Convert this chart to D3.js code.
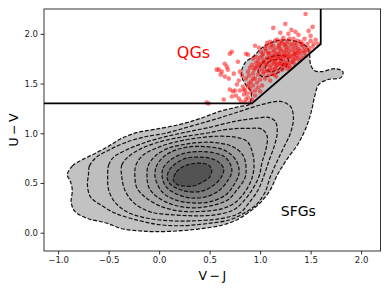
<!DOCTYPE html>
<html lang="en">
<head>
<meta charset="UTF-8">
<title>UVJ diagram</title>
<script src="https://d3js.org/d3.v7.min.js"></script>
<style>
  body { margin: 0; background: #fff; }
  text { font-family: "DejaVu Sans", sans-serif; }
</style>
</head>
<body>
<div id="chart"></div>
<script>
// axis ticks
const xTicks = [-1.0, -0.5, 0.0, 0.5, 1.0, 1.5, 2.0];
const yTicks = [0.0, 0.5, 1.0, 1.5, 2.0];

// density contours of the star-forming sample, outer -> inner, [V-J, U-V]
const sfgLevel1 = [[-0.91,0.58],[-0.86,0.67],[-0.75,0.74],[-0.63,0.80],[-0.50,0.87],[-0.37,0.95],[-0.21,1.01],[-0.04,1.04],[0.21,1.09],[0.41,1.15],[0.60,1.22],[0.80,1.27],[0.89,1.29],[0.91,1.35],[0.91,1.42],[0.87,1.47],[0.82,1.56],[0.82,1.64],[0.86,1.72],[0.93,1.77],[1.02,1.86],[1.13,1.92],[1.26,1.94],[1.40,1.91],[1.47,1.86],[1.49,1.79],[1.50,1.69],[1.54,1.63],[1.61,1.62],[1.74,1.65],[1.82,1.62],[1.80,1.56],[1.67,1.54],[1.58,1.49],[1.54,1.37],[1.51,1.23],[1.46,1.07],[1.38,0.90],[1.26,0.73],[1.17,0.58],[1.10,0.43],[1.00,0.30],[0.88,0.20],[0.75,0.12],[0.60,0.07],[0.41,0.04],[0.22,0.02],[-0.04,0.01],[-0.21,0.02],[-0.37,0.04],[-0.53,0.10],[-0.70,0.14],[-0.83,0.21],[-0.87,0.30],[-0.86,0.43],[-0.88,0.52]];
const sfgLevel2 = [[-0.70,0.58],[-0.69,0.67],[-0.62,0.76],[-0.50,0.83],[-0.35,0.90],[-0.16,0.96],[0.06,1.00],[0.31,1.07],[0.55,1.14],[0.80,1.22],[1.02,1.29],[1.20,1.32],[1.30,1.27],[1.33,1.16],[1.30,1.00],[1.23,0.85],[1.16,0.70],[1.10,0.56],[1.05,0.41],[0.96,0.28],[0.83,0.19],[0.70,0.13],[0.46,0.09],[0.21,0.07],[0.01,0.08],[-0.19,0.12],[-0.42,0.19],[-0.58,0.28],[-0.68,0.36],[-0.71,0.48]];
const sfgLevel3 = [[-0.51,0.56],[-0.50,0.68],[-0.45,0.76],[-0.33,0.83],[-0.16,0.90],[0.04,0.96],[0.26,1.01],[0.50,1.06],[0.75,1.12],[0.95,1.15],[1.08,1.16],[1.15,1.12],[1.17,1.01],[1.14,0.87],[1.09,0.73],[1.04,0.58],[0.98,0.43],[0.89,0.30],[0.80,0.20],[0.60,0.14],[0.36,0.12],[0.11,0.12],[-0.14,0.15],[-0.32,0.21],[-0.44,0.31],[-0.50,0.43]];
const sfgLevel4 = [[-0.37,0.56],[-0.37,0.68],[-0.31,0.76],[-0.19,0.84],[-0.01,0.91],[0.21,0.96],[0.46,1.00],[0.68,1.04],[0.88,1.05],[1.02,1.04],[1.07,0.97],[1.06,0.85],[1.02,0.71],[0.99,0.57],[0.92,0.43],[0.83,0.31],[0.74,0.23],[0.56,0.18],[0.36,0.17],[0.13,0.18],[-0.09,0.21],[-0.25,0.30],[-0.34,0.43]];
const sfgLevel5 = [[-0.24,0.56],[-0.23,0.68],[-0.16,0.78],[-0.03,0.85],[0.15,0.91],[0.36,0.95],[0.57,0.97],[0.76,0.96],[0.87,0.92],[0.92,0.82],[0.94,0.69],[0.92,0.55],[0.85,0.41],[0.75,0.30],[0.62,0.24],[0.43,0.215],[0.23,0.215],[0.03,0.26],[-0.13,0.35],[-0.22,0.45]];
const sfgLevel6 = [[-0.12,0.56],[-0.11,0.67],[-0.04,0.77],[0.09,0.85],[0.26,0.89],[0.44,0.91],[0.61,0.90],[0.74,0.86],[0.83,0.78],[0.86,0.67],[0.85,0.55],[0.77,0.43],[0.68,0.33],[0.51,0.27],[0.33,0.25],[0.14,0.28],[-0.02,0.36],[-0.10,0.45]];
const sfgLevel7 = [[-0.04,0.56],[-0.03,0.66],[0.04,0.76],[0.16,0.83],[0.31,0.865],[0.47,0.865],[0.62,0.84],[0.72,0.78],[0.78,0.69],[0.79,0.59],[0.74,0.48],[0.66,0.38],[0.50,0.31],[0.33,0.30],[0.16,0.33],[0.03,0.41]];
const sfgLevel8 = [[0.03,0.56],[0.04,0.65],[0.11,0.73],[0.22,0.79],[0.36,0.815],[0.50,0.81],[0.64,0.77],[0.70,0.70],[0.72,0.61],[0.67,0.51],[0.59,0.42],[0.46,0.36],[0.31,0.35],[0.17,0.39],[0.07,0.46]];
const sfgLevel9 = [[0.08,0.55],[0.10,0.63],[0.17,0.70],[0.27,0.75],[0.39,0.76],[0.50,0.75],[0.59,0.71],[0.64,0.64],[0.61,0.55],[0.53,0.47],[0.43,0.42],[0.31,0.41],[0.19,0.44],[0.11,0.49]];
const sfgLevel10 = [[0.14,0.53],[0.17,0.61],[0.23,0.66],[0.31,0.69],[0.41,0.70],[0.49,0.68],[0.52,0.63],[0.50,0.56],[0.43,0.51],[0.34,0.47],[0.24,0.47],[0.17,0.49]];

// inner contours of the quiescent clump
const qgLevel2 = [[0.98,1.62],[1.02,1.70],[1.08,1.76],[1.16,1.78],[1.24,1.78],[1.28,1.74],[1.26,1.68],[1.19,1.62],[1.10,1.58],[1.02,1.57]];
const qgLevel3 = [[1.05,1.65],[1.08,1.71],[1.14,1.74],[1.21,1.74],[1.23,1.70],[1.19,1.65],[1.11,1.62]];

const levelFills = ["#c2c2c2", "#bebebe", "#b9b9b9", "#b2b2b2", "#a9a9a9", "#9d9d9d", "#8e8e8e", "#7c7c7c", "#686868", "#535353"];

// UVJ selection boundary
const boxVJ = [-1.3, 0.92, 1.6, 1.6];
const boxUV = [1.3, 1.3, 1.898, 2.4];

// quiescent galaxies [V-J, U-V]
const qgPoints = [
  [1.45,2.20],[1.25,2.10],[1.52,2.07],[1.13,2.06],[1.31,2.04],[1.35,2.02],[1.28,2.00],[1.38,1.99],[1.20,2.01],[1.48,2.03],
  [1.50,1.98],[1.07,1.91],[1.10,1.92],[1.17,1.94],[1.23,1.96],[0.88,1.79],[0.72,1.82],[0.70,1.80],[0.86,1.80],[0.65,1.70],
  [0.67,1.67],[0.68,1.64],[0.57,1.64],[0.65,1.57],[0.69,1.55],[0.79,1.53],[0.82,1.58],[0.80,1.62],[0.70,1.44],[0.75,1.43],
  [0.80,1.43],[0.85,1.43],[0.73,1.42],[0.72,1.37],[0.86,1.34],[0.81,1.32],[0.49,1.30],[0.95,1.88],[0.99,1.86],[0.78,1.72],
  [0.74,1.60],[0.62,1.62],[0.77,1.49],[0.83,1.47],[0.90,1.45],[0.89,1.50],[0.93,1.55],[0.76,1.38],[0.84,1.39],[0.79,1.35],
  [0.64,1.34],[0.47,1.31],[0.59,1.64],[0.61,1.59],
  [1.15,1.93],[1.22,1.91],[1.27,1.93],[1.33,1.95],[1.40,1.92],[1.44,1.95],[1.30,1.90],[1.36,1.89],[1.19,1.88],[1.25,1.87],
  [1.50,1.93],[1.47,1.90],[1.55,1.94],[1.57,1.90],
  [1.05,1.85],[1.10,1.86],[1.14,1.84],[1.20,1.85],[1.28,1.86],[1.32,1.84],[1.38,1.85],[1.43,1.87],[1.46,1.84],[1.52,1.87],
  [1.35,1.82],[1.24,1.82],[1.16,1.80],[1.09,1.81],[1.01,1.82],[1.40,1.80],[1.49,1.83],
  [0.96,1.77],[1.02,1.78],[1.07,1.76],[1.12,1.78],[1.18,1.76],[1.23,1.78],[1.27,1.80],[1.31,1.77],[1.36,1.78],[1.42,1.76],
  [1.39,1.73],[1.33,1.74],[1.28,1.75],[1.21,1.73],[1.15,1.72],[1.09,1.73],[1.04,1.74],[0.98,1.73],[0.93,1.75],[1.25,1.72],[1.30,1.71],
  [0.92,1.69],[0.97,1.67],[1.01,1.70],[1.05,1.68],[1.11,1.69],[1.16,1.67],[1.20,1.70],[1.25,1.68],[1.30,1.66],[1.34,1.70],
  [1.22,1.64],[1.18,1.62],[1.13,1.64],[1.07,1.63],[1.02,1.65],[0.94,1.64],[0.90,1.66],[0.88,1.62],[1.27,1.65],
  [0.89,1.58],[0.93,1.60],[0.98,1.59],[1.03,1.60],[1.08,1.58],[1.12,1.60],[1.16,1.57],[0.95,1.55],[1.00,1.54],[1.05,1.55],
  [1.10,1.53],[0.91,1.52],[0.86,1.55],[0.97,1.51],[1.14,1.59],
  [0.88,1.47],[0.93,1.48],[0.98,1.46],[1.02,1.48],[0.95,1.43],[0.91,1.41],[0.87,1.40],[1.00,1.42],[0.84,1.44],
  [0.88,1.36],[0.92,1.34],[0.85,1.31],[0.90,1.31],[0.95,1.38],
  [1.18,1.81],[1.26,1.84],[1.32,1.88],[1.12,1.75],[1.06,1.71],[1.23,1.75],[1.29,1.78],[1.37,1.81],[1.43,1.83],[1.15,1.78],
  [1.20,1.79],[1.10,1.66],[1.14,1.70],[1.04,1.62],[0.99,1.63],[1.35,1.86],[1.41,1.89],[1.21,1.67],[1.26,1.70],[1.08,1.80],
  [0.96,1.71],[1.00,1.76],[1.17,1.86],[1.24,1.89],[1.45,1.78],
  [1.13,1.88],[1.21,1.93],[1.29,1.95],[1.37,1.93],[1.42,1.90],[1.34,1.91],[1.26,1.90],[1.19,1.90],[1.11,1.89],[1.06,1.88],
  [1.03,1.80],[1.06,1.83],[1.13,1.82],[1.21,1.83],[1.29,1.82],[1.34,1.80],[1.39,1.83],[1.44,1.81],[1.48,1.86],[1.53,1.90],
  [1.10,1.76],[1.16,1.75],[1.20,1.76],[1.26,1.77],[1.33,1.79],[1.38,1.76],[1.35,1.75],[1.24,1.79],[1.19,1.71],[1.13,1.73],
  [1.07,1.69],[1.03,1.72],[0.99,1.69],[0.95,1.66],[1.09,1.63],[1.15,1.65],[1.23,1.69],[1.28,1.68],[1.32,1.72],[1.17,1.69]
];

const width = 390, height = 293;
const margin = {top: 9, right: 9.4, bottom: 42, left: 44};

const x = d3.scaleLinear().domain([-1.14, 2.193]).range([margin.left, width - margin.right]);
const y = d3.scaleLinear().domain([-0.184, 2.25]).range([height - margin.bottom, margin.top]);

const svg = d3.select("#chart").append("svg")
    .attr("width", width)
    .attr("height", height);

svg.append("defs").append("clipPath").attr("id", "plot-clip")
  .append("rect")
    .attr("x", margin.left).attr("y", margin.top)
    .attr("width", width - margin.left - margin.right)
    .attr("height", height - margin.top - margin.bottom);

const plot = svg.append("g").attr("clip-path", "url(#plot-clip)");

const contourLine = d3.line()
    .x(d => x(d[0]))
    .y(d => y(d[1]))
    .curve(d3.curveCatmullRomClosed.alpha(0.5));

const sfgLevels = [sfgLevel1, sfgLevel2, sfgLevel3, sfgLevel4, sfgLevel5,
                   sfgLevel6, sfgLevel7, sfgLevel8, sfgLevel9, sfgLevel10];

// filled bands
plot.append("g")
  .selectAll("path")
  .data(sfgLevels)
  .join("path")
    .attr("d", contourLine)
    .attr("fill", (d, i) => levelFills[i])
    .attr("stroke", "none");

// dashed iso-lines
plot.append("g")
  .selectAll("path")
  .data(sfgLevels.concat([qgLevel2, qgLevel3]))
  .join("path")
    .attr("d", contourLine)
    .attr("fill", "none")
    .attr("stroke", "#111")
    .attr("stroke-width", 1.2)
    .attr("stroke-dasharray", "4,1.8");

// quiescent galaxies
plot.append("g")
  .selectAll("circle")
  .data(qgPoints)
  .join("circle")
    .attr("cx", d => x(d[0]))
    .attr("cy", d => y(d[1]))
    .attr("r", 2.3)
    .attr("fill", "red")
    .attr("fill-opacity", 0.5);

// selection box
plot.append("path")
    .datum(d3.zip(boxVJ, boxUV))
    .attr("d", d3.line().x(d => x(d[0])).y(d => y(d[1])))
    .attr("fill", "none")
    .attr("stroke", "#000")
    .attr("stroke-width", 1.8);

plot.append("text")
    .attr("x", x(0.175)).attr("y", y(1.76))
    .attr("fill", "red")
    .attr("font-size", 16)
    .text("QGs");

plot.append("text")
    .attr("x", x(1.205)).attr("y", y(0.168))
    .attr("fill", "#000")
    .attr("font-size", 14)
    .text("SFGs");

// axes
const xAxis = svg.append("g")
    .attr("transform", `translate(0,${height - margin.bottom})`)
    .call(d3.axisBottom(x).tickValues(xTicks).tickSize(3.5).tickPadding(2.5).tickFormat(d3.format(".1f")));
const yAxis = svg.append("g")
    .attr("transform", `translate(${margin.left},0)`)
    .call(d3.axisLeft(y).tickValues(yTicks).tickSize(3.5).tickPadding(2.5).tickFormat(d3.format(".1f")));

[xAxis, yAxis].forEach(a => {
  a.select(".domain").remove();
  a.selectAll("line").attr("stroke", "#000").attr("stroke-width", 0.8);
  a.selectAll("text").attr("fill", "#222").attr("font-size", 8.5)
      .attr("font-family", "DejaVu Sans, sans-serif");
});

svg.append("rect")
    .attr("x", margin.left).attr("y", margin.top)
    .attr("width", width - margin.left - margin.right)
    .attr("height", height - margin.top - margin.bottom)
    .attr("fill", "none")
    .attr("stroke", "#000")
    .attr("stroke-width", 0.8);

svg.append("text")
    .attr("x", (margin.left + width - margin.right) / 2)
    .attr("y", 280)
    .attr("text-anchor", "middle")
    .attr("font-size", 12.5)
    .text("V\u2009\u2212\u2009J");

svg.append("text")
    .attr("transform", `translate(18,${(margin.top + height - margin.bottom) / 2}) rotate(-90)`)
    .attr("text-anchor", "middle")
    .attr("font-size", 12.5)
    .text("U\u2009\u2212\u2009V");
</script>
</body>
</html>
